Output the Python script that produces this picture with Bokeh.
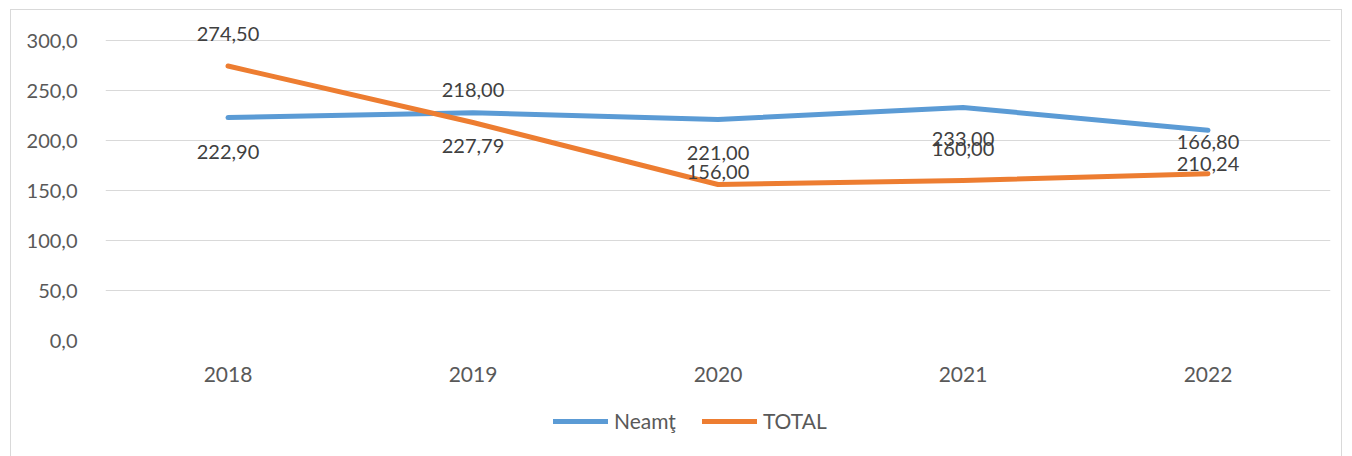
from bokeh.plotting import figure
from bokeh.layouts import column
from bokeh.models import FactorRange, Range1d, FixedTicker, Legend, LegendItem, ColumnDataSource
from bokeh.core.properties import value
from bokeh.embed import file_html
from bokeh.resources import INLINE

years = ["2018", "2019", "2020", "2021", "2022"]
neamt = [222.90, 227.79, 221.00, 233.00, 210.24]
total = [274.50, 218.00, 156.00, 160.00, 166.80]
neamt_labels = ["222,90", "227,79", "221,00", "233,00", "210,24"]
total_labels = ["274,50", "218,00", "156,00", "160,00", "166,80"]
y_ticks = [0, 50, 100, 150, 200, 250, 300]

# label offsets in pixels (style, not data)
neamt_off = [34, 33, 33, 31, 34]
total_off = [-32, -33, -13, -32, -32]

FONT = "Lato"
BLUE = "#5b9bd5"
ORANGE = "#ed7d31"

p = figure(width=1330, height=381, x_range=FactorRange(*years, range_padding=0),
           y_range=Range1d(0, 330), output_backend="svg", toolbar_location=None,
           min_border_left=94, min_border_right=11, min_border_top=0, min_border_bottom=51)
p.outline_line_color = None
p.xgrid.grid_line_color = None
p.ygrid.grid_line_color = "#d9d9d9"
p.ygrid.grid_line_width = 1.2
p.yaxis.ticker = FixedTicker(ticks=y_ticks)
p.yaxis.major_label_overrides = {t: f"{t:.1f}".replace(".", ",") for t in y_ticks}
for ax in (p.xaxis, p.yaxis):
    ax.axis_line_color = None
    ax.major_tick_line_color = None
    ax.minor_tick_line_color = None
    ax.major_label_text_font = FONT
    ax.major_label_text_color = "#595959"
p.yaxis.major_label_text_font_size = "20px"
p.xaxis.major_label_text_font_size = "21px"
p.yaxis.major_label_standoff = 22
p.xaxis.major_label_standoff = 20

src = ColumnDataSource(dict(x=years, n=neamt, t=total, nl=neamt_labels, tl=total_labels,
                            no=neamt_off, to=total_off))

p.line("x", "n", source=src, line_color=BLUE, line_width=5, line_cap="round", line_join="round")
p.line("x", "t", source=src, line_color=ORANGE, line_width=5, line_cap="round", line_join="round")

p.text("x", "n", text="nl", y_offset="no", source=src, text_align="center", text_baseline="middle",
       text_font=value(FONT), text_font_size="20px", text_color="#404040")
p.text("x", "t", text="tl", y_offset="to", source=src, text_align="center", text_baseline="middle",
       text_font=value(FONT), text_font_size="20px", text_color="#404040")

# legend strip (proxy renderers hold no visible data)
lg = figure(width=1330, height=65, output_backend="svg", toolbar_location=None,
            x_range=Range1d(0, 1), y_range=Range1d(0, 1),
            min_border_left=0, min_border_right=0, min_border_top=0, min_border_bottom=0)
lg.axis.visible = False
lg.grid.visible = False
lg.outline_line_color = None
nan = float("nan")
dn = lg.line(x=[nan], y=[nan], line_color=BLUE, line_width=5, line_cap="round")
dt = lg.line(x=[nan], y=[nan], line_color=ORANGE, line_width=5, line_cap="round")
legend = Legend(items=[LegendItem(label="Neamţ", renderers=[dn]), LegendItem(label="TOTAL", renderers=[dt])],
                orientation="horizontal", location=(448, 23), padding=0, margin=0, spacing=26,
                glyph_width=55, glyph_height=20, label_height=20, label_standoff=6,
                label_text_font=FONT, label_text_font_size="21px", label_text_color="#595959",
                border_line_color=None, background_fill_alpha=0)
lg.add_layout(legend, "center")

layout = column(p, lg, spacing=0)
layout.styles = {"border": "1px solid #d9d9d9", "border-bottom": "none",
                 "margin-left": "10px", "margin-top": "9px"}

open("out.html", "w").write(file_html(layout, INLINE))
